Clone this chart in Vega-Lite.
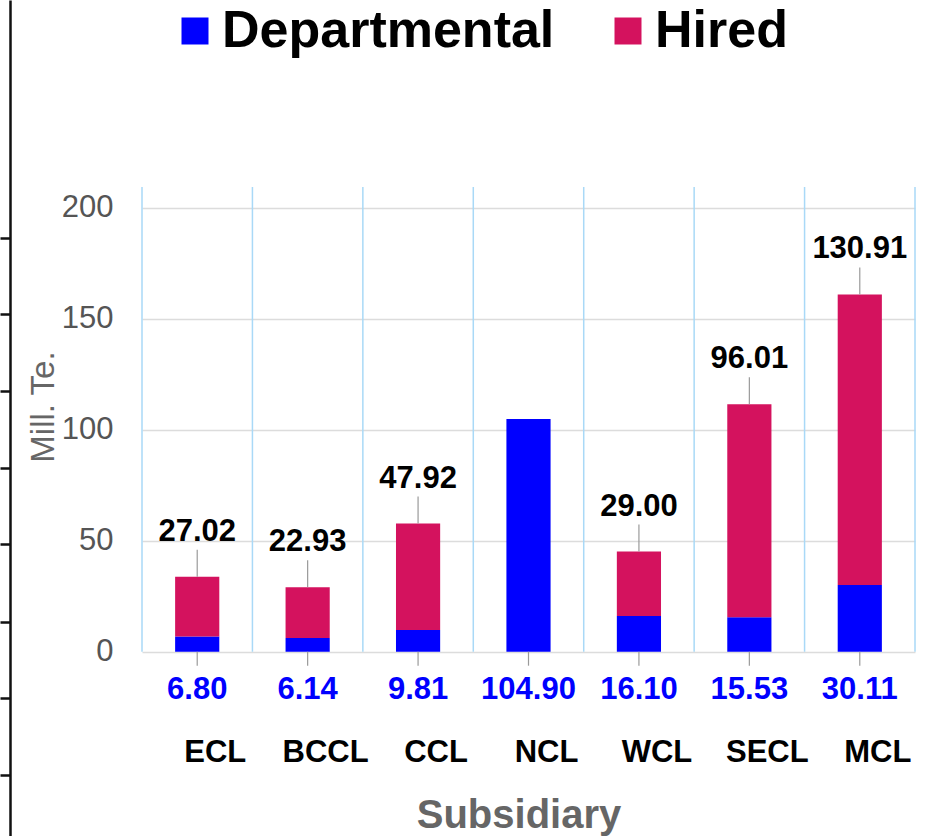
{
  "$schema": "https://vega.github.io/schema/vega-lite/v6.json",
  "width": 773,
  "height": 836,
  "autosize": {"type": "none"},
  "padding": {"left": 142, "top": 0, "right": 15, "bottom": 0},
  "background": "white",
  "config": {"view": {"stroke": null}, "font": "Liberation Sans"},
  "data": {
    "values": [
      {"sub": "ECL", "type": "Departmental", "value": 6.80},
      {"sub": "ECL", "type": "Hired", "value": 27.02},
      {"sub": "BCCL", "type": "Departmental", "value": 6.14},
      {"sub": "BCCL", "type": "Hired", "value": 22.93},
      {"sub": "CCL", "type": "Departmental", "value": 9.81},
      {"sub": "CCL", "type": "Hired", "value": 47.92},
      {"sub": "NCL", "type": "Departmental", "value": 104.90},
      {"sub": "WCL", "type": "Departmental", "value": 16.10},
      {"sub": "WCL", "type": "Hired", "value": 29.00},
      {"sub": "SECL", "type": "Departmental", "value": 15.53},
      {"sub": "SECL", "type": "Hired", "value": 96.01},
      {"sub": "MCL", "type": "Departmental", "value": 30.11},
      {"sub": "MCL", "type": "Hired", "value": 130.91}
    ]
  },
  "resolve": {"axis": {"y": "independent"}},
  "layer": [
    {
      "transform": [{"filter": "datum.type === 'Departmental'"}],
      "mark": {"type": "rule", "color": "#a9d9f7", "strokeWidth": 1.5},
      "encoding": {
        "x": {"field": "sub", "type": "nominal", "title": "Subsidiary", "sort": ["ECL","BCCL","CCL","NCL","WCL","SECL","MCL"], "bandPosition": 0},
        "y": {"datum": 0, "type": "quantitative", "axis": {
          "orient": "left", "offset": 132, "title": null, "labels": false, "grid": false,
          "domain": true, "domainColor": "#111111", "domainWidth": 2.5,
          "ticks": true, "tickColor": "#111111", "tickWidth": 2.5, "tickSize": 10,
          "values": [186.44, 151.96, 117.49, 82.79, 48.54, 13.3, -20.87, -55.57]
        }},
        "y2": {"datum": 209.4}
      }
    },
    {
      "transform": [{"filter": "datum.type === 'Departmental' && datum.sub === 'MCL'"}],
      "mark": {"type": "rule", "color": "#a9d9f7", "strokeWidth": 1.5},
      "encoding": {
        "x": {"field": "sub", "type": "nominal", "title": "Subsidiary", "sort": ["ECL","BCCL","CCL","NCL","WCL","SECL","MCL"], "bandPosition": 1},
        "y": {"datum": 0, "type": "quantitative", "axis": null},
        "y2": {"datum": 209.4}
      }
    },
    {
      "mark": {"type": "bar", "width": {"band": 0.4}},
      "encoding": {
        "x": {
          "field": "sub", "type": "nominal", "title": "Subsidiary",
          "sort": ["ECL","BCCL","CCL","NCL","WCL","SECL","MCL"],
          "scale": {"paddingInner": 0, "paddingOuter": 0},
          "axis": {
            "orient": "bottom", "offset": -184.3, "bandPosition": 0.5, "domain": false, "ticks": false, "tickSize": 0, "grid": false,
            "labelAngle": 0, "labelAlign": "center", "labelFontSize": 31, "labelFontWeight": "bold", "labelColor": "#000000",
            "labelBaseline": "alphabetic", "labelPadding": 110, "labelOffset": 18,
            "titleFontSize": 40, "titleFontWeight": "bold", "titleColor": "#666666",
            "titleX": 376.5, "titleY": 175.5, "titleBaseline": "alphabetic", "titleAlign": "center"
          }
        },
        "y": {
          "field": "value", "type": "quantitative", "stack": "zero",
          "scale": {"domain": [-83.06, 293.69], "nice": false, "zero": false},
          "axis": {
            "orient": "left", "title": "Mill. Te.", "values": [0, 50, 100, 150, 200],
            "grid": true, "gridColor": "#dcdcdc", "gridWidth": 1.5,
            "domain": false, "ticks": false, "tickSize": 0,
            "labelFontSize": 31, "labelColor": "#555555", "labelPadding": 29,
            "titleFontSize": 33, "titleFontWeight": "normal", "titleColor": "#666666",
            "titleX": -89, "titleY": 406.5, "titleAngle": 270, "titleAlign": "center", "titleBaseline": "alphabetic"
          }
        },
        "order": {"field": "type", "sort": "ascending"},
        "color": {
          "field": "type", "type": "nominal",
          "scale": {"domain": ["Departmental", "Hired"], "range": ["#0000ff", "#d4125e"]},
          "legend": {
            "orient": "none", "legendX": 27, "legendY": 5, "direction": "horizontal", "title": null,
            "symbolType": "square", "symbolSize": 729, "symbolStrokeWidth": 0,
            "labelFontSize": 52, "labelFontWeight": "bold", "labelColor": "#000000", "labelLimit": 0,
            "labelOffset": 1, "columnPadding": 47, "padding": 0
          }
        }
      }
    },
    {
      "transform": [
        {"joinaggregate": [{"op": "sum", "field": "value", "as": "total"}], "groupby": ["sub"]},
        {"filter": "datum.type === 'Hired'"}
      ],
      "mark": {"type": "rule", "color": "#9a9a9a", "strokeWidth": 1.2, "y2Offset": -27},
      "encoding": {
        "x": {"field": "sub", "type": "nominal", "title": "Subsidiary", "sort": ["ECL","BCCL","CCL","NCL","WCL","SECL","MCL"]},
        "y": {"field": "total", "type": "quantitative", "axis": null},
        "y2": {"field": "total"}
      }
    },
    {
      "transform": [
        {"joinaggregate": [{"op": "sum", "field": "value", "as": "total"}], "groupby": ["sub"]},
        {"filter": "datum.type === 'Hired'"}
      ],
      "mark": {"type": "text", "fontSize": 31, "fontWeight": "bold", "color": "#000000", "baseline": "alphabetic", "dy": -36, "font": "Liberation Sans"},
      "encoding": {
        "x": {"field": "sub", "type": "nominal", "title": "Subsidiary", "sort": ["ECL","BCCL","CCL","NCL","WCL","SECL","MCL"]},
        "y": {"field": "total", "type": "quantitative", "axis": null},
        "text": {"field": "value", "type": "quantitative", "format": ".2f"}
      }
    },
    {
      "transform": [{"filter": "datum.type === 'Departmental'"}],
      "mark": {"type": "rule", "color": "#9a9a9a", "strokeWidth": 1.2, "y2Offset": 14},
      "encoding": {
        "x": {"field": "sub", "type": "nominal", "title": "Subsidiary", "sort": ["ECL","BCCL","CCL","NCL","WCL","SECL","MCL"]},
        "y": {"datum": 0, "type": "quantitative", "axis": null},
        "y2": {"datum": 0}
      }
    },
    {
      "transform": [{"filter": "datum.type === 'Departmental'"}],
      "mark": {"type": "text", "fontSize": 31, "fontWeight": "bold", "color": "#0000ff", "baseline": "alphabetic", "dy": 47, "font": "Liberation Sans"},
      "encoding": {
        "x": {"field": "sub", "type": "nominal", "title": "Subsidiary", "sort": ["ECL","BCCL","CCL","NCL","WCL","SECL","MCL"]},
        "y": {"datum": 0, "type": "quantitative", "axis": null},
        "text": {"field": "value", "type": "quantitative", "format": ".2f"}
      }
    }
  ]
}
